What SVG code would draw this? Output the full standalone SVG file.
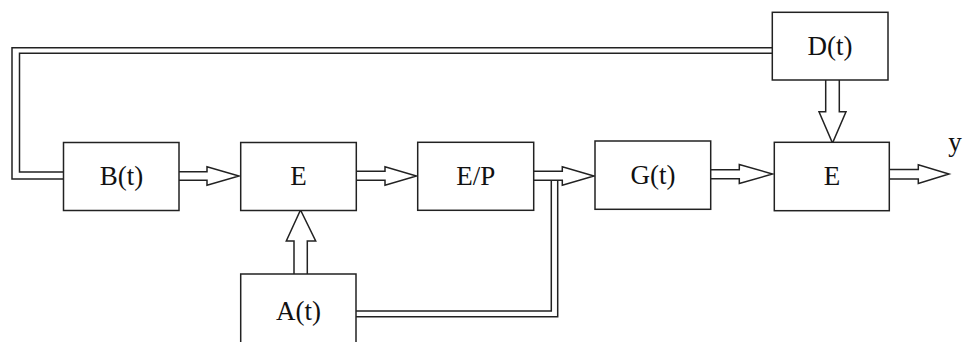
<svg xmlns="http://www.w3.org/2000/svg" width="964" height="342" viewBox="0 0 964 342">
<style>
.box{fill:#fff;stroke:#222;stroke-width:1.5}
.ln{fill:none;stroke:#222;stroke-width:1.5}
.ar{fill:#fff;stroke:#222;stroke-width:1.5;stroke-linejoin:miter}
text{font-family:"Liberation Serif","Times New Roman",serif;font-size:27px;fill:#111;text-anchor:middle}
</style>
<rect width="964" height="342" fill="#fff"/>
<g id="connectors">
<path class="ln" d="M772.3,47.7 H12 V179 H63.5"/>
<path class="ln" d="M772.3,53.3 H19.5 V172 H63.5"/>
<path class="ln" d="M356,311 H551.3 V180.3"/>
<path class="ln" d="M356,316.7 H557.7 V180.3"/>
<path class="ar" d="M179,171.7 H207 V166.7 L239,176 L207,185.3 V180.3 H179"/>
<path class="ar" d="M356.3,171.3 H385 V166.7 L416.5,176 L385,185.3 V180.3 H356.3"/>
<path class="ar" d="M533.7,171.3 H562.3 V166.7 L594,176 L562.3,185.3 V180.3 H533.7"/>
<path class="ar" d="M710.7,169.7 H739.3 V164.5 L772.5,174 L739.3,183.5 V178.7 H710.7"/>
<path class="ar" d="M889.3,169.5 H918.3 V164.7 L949,174 L918.3,183.5 V179 H889.3"/>
<path class="ar" d="M825.7,80 V111.7 H819 L832.5,143 L846,111.7 H839.3 V80"/>
<path class="ar" d="M294,274 V241 H286.3 L300.5,210 L315.7,241 H307.3 V274"/>
</g>
<g id="B"><rect class="box" x="63.5" y="142.5" width="115.5" height="68"/><text x="121.5" y="185">B(t)</text></g>
<g id="E1"><rect class="box" x="240.7" y="142.5" width="115.6" height="68"/><text x="298.5" y="185">E</text></g>
<g id="EP"><rect class="box" x="417.7" y="142.3" width="116" height="68"/><text x="475.7" y="185">E/P</text></g>
<g id="G"><rect class="box" x="595" y="141" width="115.7" height="68.3"/><text x="653" y="184">G(t)</text></g>
<g id="E2"><rect class="box" x="774.3" y="142.3" width="115" height="68.4"/><text x="832" y="185">E</text></g>
<g id="D"><rect class="box" x="772.3" y="12.3" width="115.7" height="67.7"/><text x="830" y="55">D(t)</text></g>
<g id="A"><rect class="box" x="240.7" y="274" width="115.3" height="75"/><text x="298.5" y="320">A(t)</text></g>
<g id="y"><text x="955" y="151">y</text></g>
</svg>
